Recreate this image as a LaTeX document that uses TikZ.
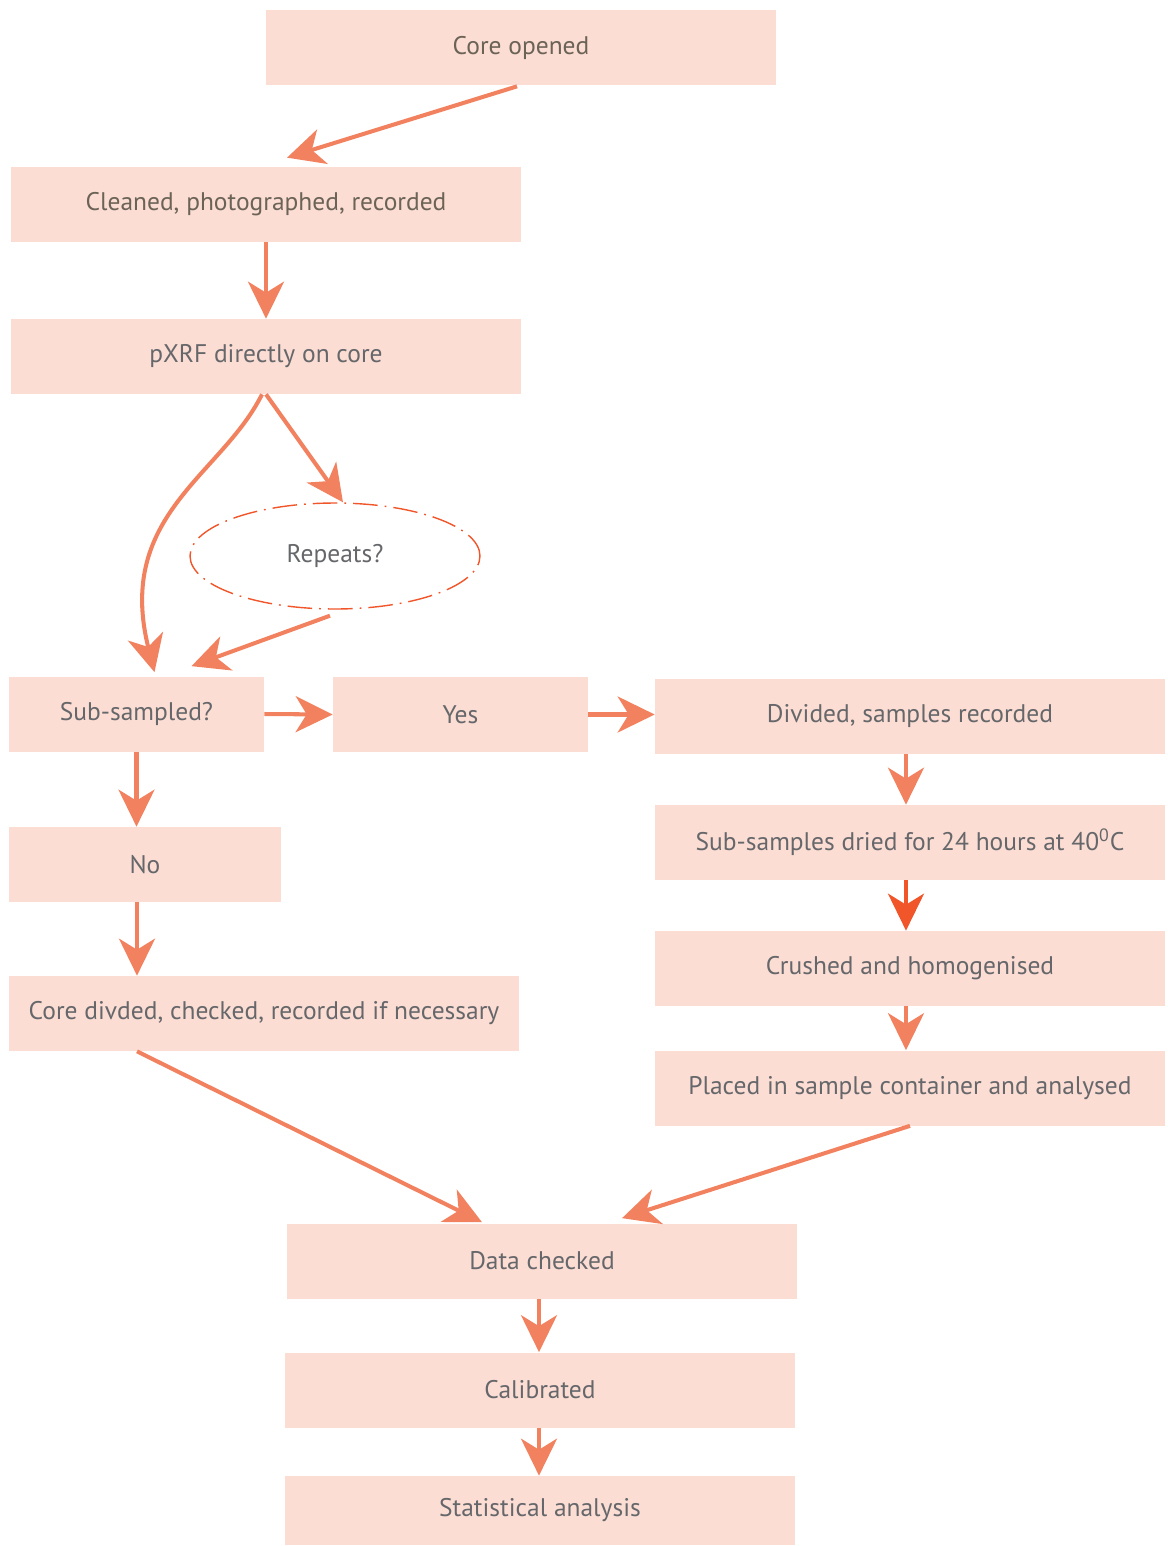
\documentclass[tikz,border=0pt]{standalone}
\usepackage{fontspec}
\setmainfont{PT Sans}
\usetikzlibrary{arrows.meta,calc,shapes.geometric}
\definecolor{boxfill}{HTML}{FBDDD4}
\definecolor{flowc}{HTML}{F2825F}
\definecolor{darkflow}{HTML}{F0562A}
\definecolor{txtgray}{HTML}{66676A}
\definecolor{txtbrown}{HTML}{6C6357}
\tikzset{>={Stealth[length=0.74cm,width=0.72cm,inset=0.22cm]},
  every node/.style={font=\fontsize{14.5}{17}\selectfont,text=txtgray},
  stepbox/.style={fill=boxfill,minimum width=10.2cm,minimum height=1.5cm,inner sep=0pt},
  smallbox/.style={stepbox,minimum width=5.1cm},
  query/.style={ellipse,draw=darkflow,line width=.8pt,minimum width=5.8cm,minimum height=2.12cm,
    dash pattern=on 14pt off 4pt on 1pt off 4pt},
  flow/.style={->,draw=flowc,line width=2.3pt},
  brown/.style={text=txtbrown}}
\begin{document}
\begin{tikzpicture}[x=0.02cm,y=-0.02cm]
\useasboundingbox (0,0) rectangle (1168,1546);
% main column
\node[stepbox,brown] (core) at (521,47.5) {Core opened};
\node[stepbox,brown] (clean) at (266,204.5) {Cleaned, photographed, recorded};
\node[stepbox] (pxrf) at (266,356.5) {pXRF directly on core};
\node[query] (rep) at (335,556) {Repeats?};
\node[smallbox] (sub) at (136.5,714) {Sub-sampled?};
\node[smallbox] (yes) at (460.5,714.5) {Yes};
\node[smallbox,minimum width=5.44cm] (no) at (145,864.5) {No};
\node[stepbox] (cdiv) at (264,1013.5) {Core divded, checked, recorded if necessary};
% sub-sample branch
\node[stepbox] (div) at (910,716.5) {Divided, samples recorded};
\node[stepbox] (dried) at (910,842.5) {Sub-samples dried for 24 hours at 40\textsuperscript{0}C};
\node[stepbox] (crush) at (910,968.5) {Crushed and homogenised};
\node[stepbox] (placed) at (910,1088) {Placed in sample container and analysed};
% end
\node[stepbox] (data) at (542,1261) {Data checked};
\node[stepbox] (cal) at (540,1390) {Calibrated};
\node[stepbox,minimum height=1.38cm] (stat) at (540,1510.5) {Statistical analysis};

% arrow feet
\coordinate (nofoot) at ($(no.south)+(-8,0)$);
\coordinate (divfoot) at ($(div.south)+(-4,0)$);
\coordinate (dryfoot) at ($(dried.south)+(-4,0)$);
\coordinate (crushfoot) at ($(crush.south)+(-4,0)$);
\coordinate (datafoot) at ($(data.south)+(-3,0)$);
\coordinate (calfoot) at ($(cal.south)+(-1,0)$);

\draw[flow] ($(core.south)+(-4,1)$) -- ($(clean.north)+(21,-9)$);
\draw[flow] (clean.south) -- (pxrf.north);
\draw[flow] (pxrf.south) -- ($(rep.north)+(8,0)$);
\draw[flow] ($(pxrf.south)+(-4,0)$) .. controls (222,475) and (115,515) .. ($(sub.north)+(18,-4)$);
\draw[flow] ($(rep.south)+(-5,6)$) -- ($(sub.north)+(55,-10)$);
\draw[flow] (sub.east) -- (yes.west);
\draw[flow] (yes.east) -- (yes.east -| div.west);
\draw[flow] (sub.south) -- (sub.south |- no.north);
\draw[flow] (nofoot) -- (nofoot |- cdiv.north);
\draw[flow] ($(cdiv.south)+(-127,0)$) -- ($(data.north)+(-60,-1)$);
\draw[flow] (divfoot) -- (divfoot |- dried.north);
\draw[flow,draw=darkflow] (dryfoot) -- (dryfoot |- crush.north);
\draw[flow] (crushfoot) -- (crushfoot |- placed.north);
\draw[flow] (placed.south) -- ($(data.north)+(80,-5)$);
\draw[flow] (datafoot) -- (datafoot |- cal.north);
\draw[flow] (calfoot) -- (calfoot |- stat.north);
\end{tikzpicture}
\end{document}
